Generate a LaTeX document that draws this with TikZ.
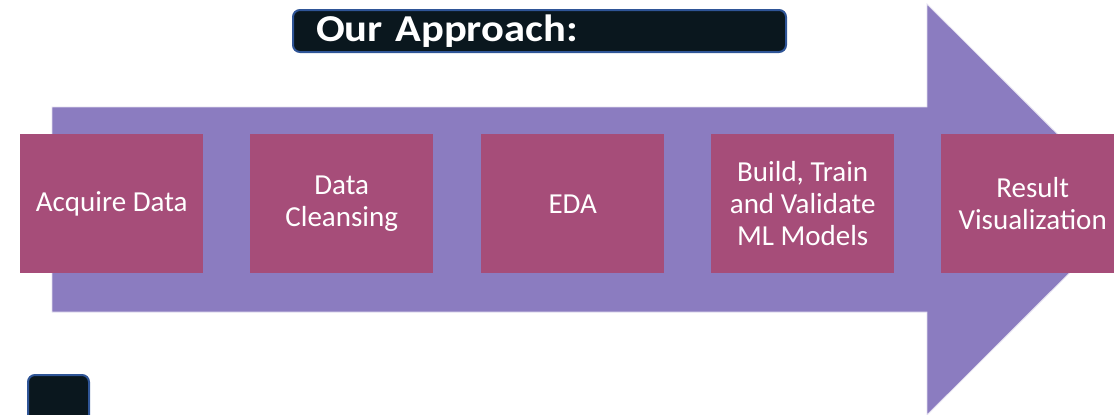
\documentclass[tikz,border=0pt]{standalone}
\usepackage{fontspec}
\setmainfont{Carlito}
\newfontfamily\titlefont[FakeStretch=1.12]{Carlito}
\usetikzlibrary{positioning}

\definecolor{arrowfill}{HTML}{8B7CC0}
\definecolor{stepfill}{HTML}{A64D79}
\definecolor{darkfill}{HTML}{0A171E}
\definecolor{darkline}{HTML}{2F5597}

\tikzset{
	stepbox/.style={rectangle, fill=stepfill, text=white, align=center,
		minimum width=183pt, minimum height=139pt, inner sep=0pt,
		anchor=north west, font={\fontsize{29}{32}\selectfont}},
	darkbox/.style={rectangle, rounded corners=7pt, fill=darkfill,
		draw=darkline, line width=2pt, anchor=north west}
}

\begin{document}
\begin{tikzpicture}[x=1pt, y=-1pt]
					\useasboundingbox (0,0) rectangle (1114,415);
					\clip (0,0) rectangle (1114,415);

					\fill[arrowfill, draw=white!75!arrowfill, line width=0.8pt]
						(52,107) -- (927,107) -- (927,4) -- (1133,209.5)
						-- (927,415) -- (927,312) -- (52,312) -- cycle;

					\node[darkbox, minimum width=493pt, minimum height=42pt,
						text width=447pt, inner xsep=23pt, align=left, text=white,
						font={\titlefont\bfseries\fontsize{38}{40}\selectfont}]
						(title) at (292,9) {Our Approach:};

					\node[darkbox, minimum width=61pt, minimum height=60pt] (footbox) at (27,374) {};

					\draw
						(20,134) node[stepbox] (acquire) {Acquire Data}
						(250,134) node[stepbox] (cleanse) {Data\\Cleansing}
						(481,134) node[stepbox] (eda) {EDA}
						(711,134) node[stepbox] (models) {Build, Train\\and Validate\\ML Models}
						(941,134) node[stepbox] (result) {Result\\Visualization};
				\end{tikzpicture}
\end{document}
